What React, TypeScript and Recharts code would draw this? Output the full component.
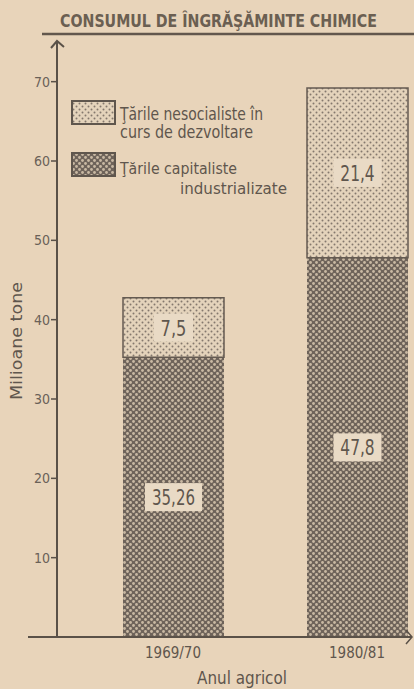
import { Bar, BarChart, LabelList, XAxis, YAxis } from "recharts";

const categories = ["1969/70", "1980/81"];
const capitaliste = [35.26, 47.8];
const nesocialiste = [7.5, 21.4];
const yTicks = [10, 20, 30, 40, 50, 60, 70];

const data = categories.map((an, i) => ({ an, cap: capitaliste[i], nes: nesocialiste[i] }));

const ink = "#5f564d";
const paper = "#e8d4ba";
const font = "'DejaVu Sans Condensed', 'Liberation Sans Narrow', 'DejaVu Sans', sans-serif";

const fmt = (v: number) => String(v).replace(".", ",");

function ValueBox(props: any) {
  const { x, y, width, height, value } = props;
  const txt = fmt(value);
  const w = 12 + txt.length * 9;
  const cx = x + width / 2;
  const cy = y + height / 2;
  return (
    <g>
      <rect x={cx - w / 2} y={cy - 14} width={w} height={28} fill="#e9dac5" />
      <text
        x={cx}
        y={cy + 8}
        textAnchor="middle"
        fontFamily={font}
        fontSize={22}
        fill={ink}
        textLength={txt.length * 8.6}
        lengthAdjust="spacingAndGlyphs"
      >
        {txt}
      </text>
    </g>
  );
}

function Patterns() {
  return (
    <defs>
      <pattern id="lightDots" width="6" height="6" patternUnits="userSpaceOnUse">
        <rect width="6" height="6" fill="#e4d3bb" />
        <circle cx="1.5" cy="1.5" r="1" fill="#84786d" />
        <circle cx="4.5" cy="4.5" r="1" fill="#84786d" />
      </pattern>
      <pattern id="darkDots" width="6" height="6" patternUnits="userSpaceOnUse">
        <rect width="6" height="6" fill="#6e635a" />
        <circle cx="1.5" cy="1.5" r="1.4" fill="#c9b9a3" />
        <circle cx="4.5" cy="4.5" r="1.4" fill="#c9b9a3" />
      </pattern>
    </defs>
  );
}

export default function App() {
  return (
    <div
      style={{
        position: "absolute",
        left: 0,
        top: 0,
        width: 414,
        height: 689,
        overflow: "hidden",
        background: paper,
        fontFamily: font,
      }}
    >
      <svg width={0} height={0} style={{ position: "absolute" }}>
        <Patterns />
      </svg>
      <div style={{ position: "absolute", left: 0, top: 0 }}>
        <BarChart width={449} height={689} data={data} margin={{ top: 42, right: 0, left: 0, bottom: 0 }}>
          <XAxis
            dataKey="an"
            height={52}
            padding={{ left: 24, right: 0 }}
            axisLine={false}
            tickLine={false}
            tickSize={8}
            tick={{ fill: ink, fontSize: 15, fontFamily: font }}
          />
          <YAxis
            width={57}
            domain={[0, 75]}
            ticks={yTicks}
            tickSize={6}
            tickMargin={1}
            axisLine={{ stroke: "#5a5148", strokeWidth: 2 }}
            tickLine={{ stroke: "#5a5148", strokeWidth: 1.5 }}
            tick={{ fill: "#6a6158", fontSize: 14, fontFamily: font }}
          />
          <Bar dataKey="cap" stackId="a" barSize={101} fill="url(#darkDots)" isAnimationActive={false}>
            <LabelList dataKey="cap" content={ValueBox} />
          </Bar>
          <Bar
            dataKey="nes"
            stackId="a"
            barSize={101}
            fill="url(#lightDots)"
            stroke="#645a51"
            strokeWidth={1.5}
            isAnimationActive={false}
          >
            <LabelList dataKey="nes" content={ValueBox} />
          </Bar>
        </BarChart>
      </div>
      <svg
        width={414}
        height={689}
        style={{ position: "absolute", left: 0, top: 0, pointerEvents: "none" }}
        fontFamily={font}
      >
        <text x={60} y={27} fontSize={17} fontWeight="bold" fill="#6b5f52" textLength={317} lengthAdjust="spacingAndGlyphs">
          CONSUMUL DE ÎNGRĂŞĂMINTE CHIMICE
        </text>
        <line x1={42} x2={414} y1={34} y2={34} stroke="#62574d" strokeWidth={2.5} />
        <path d="M51,48 L57,41 L64,47" fill="none" stroke="#5a5148" strokeWidth={2} />
        <line x1={28} x2={411} y1={637} y2={637} stroke="#5a5148" strokeWidth={2} />
        <path d="M406,630 L412,637 L406,644" fill="none" stroke="#5a5148" strokeWidth={1.5} />

        <rect x={72} y={101} width={43} height={23} fill="url(#lightDots)" stroke="#5f564d" strokeWidth={2} />
        <text x={120} y={120} fontSize={17} fill={ink} textLength={143} lengthAdjust="spacingAndGlyphs">
          Ţările nesocialiste în
        </text>
        <text x={120} y={138} fontSize={17} fill={ink} textLength={133} lengthAdjust="spacingAndGlyphs">
          curs de dezvoltare
        </text>
        <rect x={72} y={153} width={43} height={23} fill="url(#darkDots)" stroke="#5f564d" strokeWidth={2} />
        <text x={120} y={174} fontSize={16} fill={ink} textLength={117} lengthAdjust="spacingAndGlyphs">
          Ţările capitaliste
        </text>
        <text x={180} y={194} fontSize={16} fill={ink} textLength={107} lengthAdjust="spacingAndGlyphs">
          industrializate
        </text>

        <text
          x={0}
          y={0}
          fontSize={15}
          fill={ink}
          textAnchor="middle"
          textLength={118}
          lengthAdjust="spacingAndGlyphs"
          transform="translate(22,341) rotate(-90)"
        >
          Milioane tone
        </text>
        <text x={242} y={684} fontSize={17} fill={ink} textAnchor="middle" textLength={90} lengthAdjust="spacingAndGlyphs">
          Anul agricol
        </text>
      </svg>
    </div>
  );
}
